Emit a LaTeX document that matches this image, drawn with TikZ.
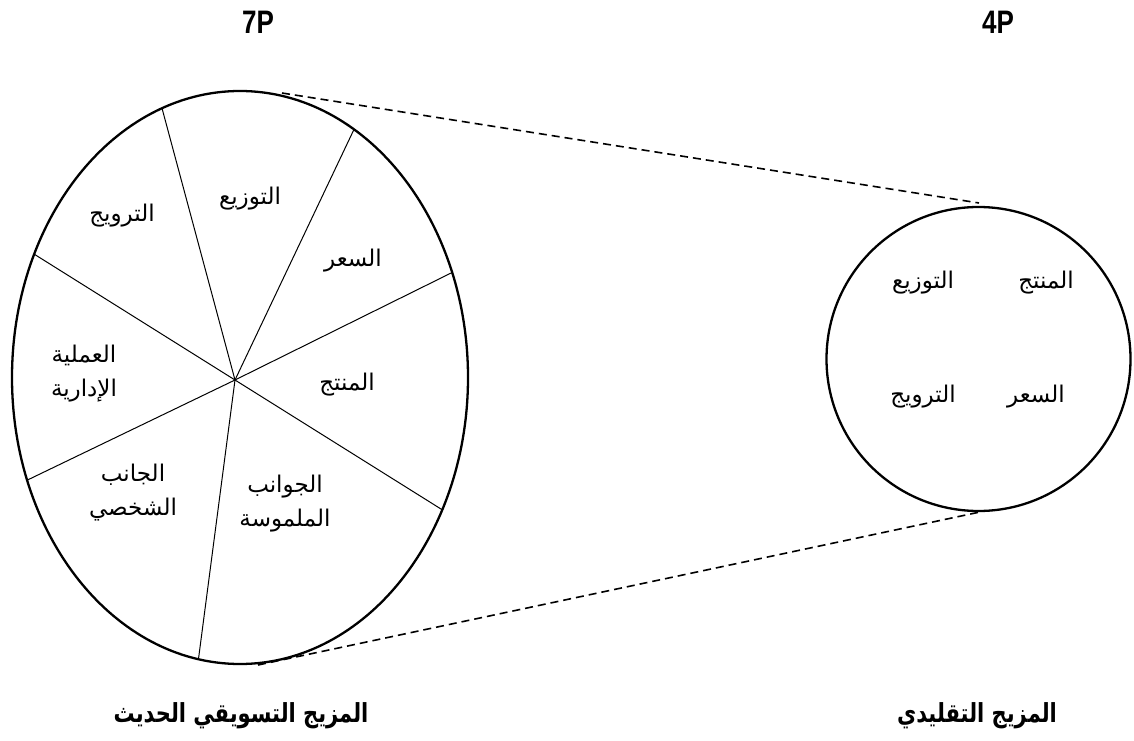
\documentclass[tikz,border=0pt]{standalone}
\usepackage{fontspec}
\setmainfont{Liberation Sans}
\newfontfamily\arabicfont[Script=Arabic]{DejaVu Sans}
\TeXXeTstate=1
\usetikzlibrary{calc}
\newcommand\artxt[1]{{\arabicfont\beginR #1\endR}}
\newcommand\tallbox[1]{\scalebox{1}[1.25]{#1}}

\begin{document}
\begin{tikzpicture}[x=1pt,y=1pt,
  rim/.style={line width=2.3pt},
  spoke/.style={line width=1pt},
  guide/.style={line width=1.6pt, dash pattern=on 8pt off 5pt},
  lbl/.style={font=\fontsize{23}{34}\selectfont, align=center, inner sep=0pt},
  heading/.style={font=\fontsize{26}{30}\selectfont\bfseries, inner sep=0pt},
  title/.style={font=\fontsize{21}{26}\selectfont\bfseries, inner sep=0pt}]
\useasboundingbox (0,0) rectangle (1134,740);

% headings
\node[heading] (h7) at (258,718) {\tallbox{7P}};
\node[heading] (h4) at (998,718) {\tallbox{4P}};

% modern mix: ellipse split into seven sectors
\coordinate (E) at (240,362.5);
\draw[rim] (E) ellipse [x radius=228, y radius=286.5];
\coordinate (hub) at (235,360);
\foreach \t [count=\i] in {110,60,21.5,-27.5,-100.5,201,154.5}
  \coordinate (s\i) at ($(E)+(\t:228 and 286.5)$);
\foreach \i in {1,...,7} \draw[spoke] (hub) -- (s\i);

\node[lbl] (m1) at (250,541) {\artxt{التوزيع}};
\node[lbl] (m2) at (122,524) {\artxt{الترويج}};
\node[lbl] (m3) at (353,479) {\artxt{السعر}};
\node[lbl] (m4) at (347,355) {\artxt{المنتج}};
\node[lbl] (m5) at (84,366) {\artxt{العملية}\\\artxt{الإدارية}};
\node[lbl] (m6) at (133,247) {\artxt{الجانب}\\\artxt{الشخصي}};
\node[lbl] (m7) at (285,236) {\artxt{الجوانب}\\\artxt{الملموسة}};

% traditional mix: circle with four elements
\coordinate (C) at (978.5,381);
\draw[rim] (C) circle [radius=152];
\node[lbl] (t1) at (1046,457) {\artxt{المنتج}};
\node[lbl] (t2) at (923,457) {\artxt{التوزيع}};
\node[lbl] (t3) at (1036,343) {\artxt{السعر}};
\node[lbl] (t4) at (923,343) {\artxt{الترويج}};

% guide lines between the two shapes
\coordinate (eTop) at (282,647);
\coordinate (cTop) at (979,537);
\coordinate (eBot) at (258,75);
\coordinate (cBot) at (980,228);
\draw[guide] (eTop) -- (cTop);
\draw[guide] (eBot) -- (cBot);

% captions
\node[title] (c1) at (241,24) {\tallbox{\artxt{المزيج التسويقي الحديث}}};
\node[title] (c2) at (977,24) {\tallbox{\artxt{المزيج التقليدي}}};
\end{tikzpicture}
\end{document}
